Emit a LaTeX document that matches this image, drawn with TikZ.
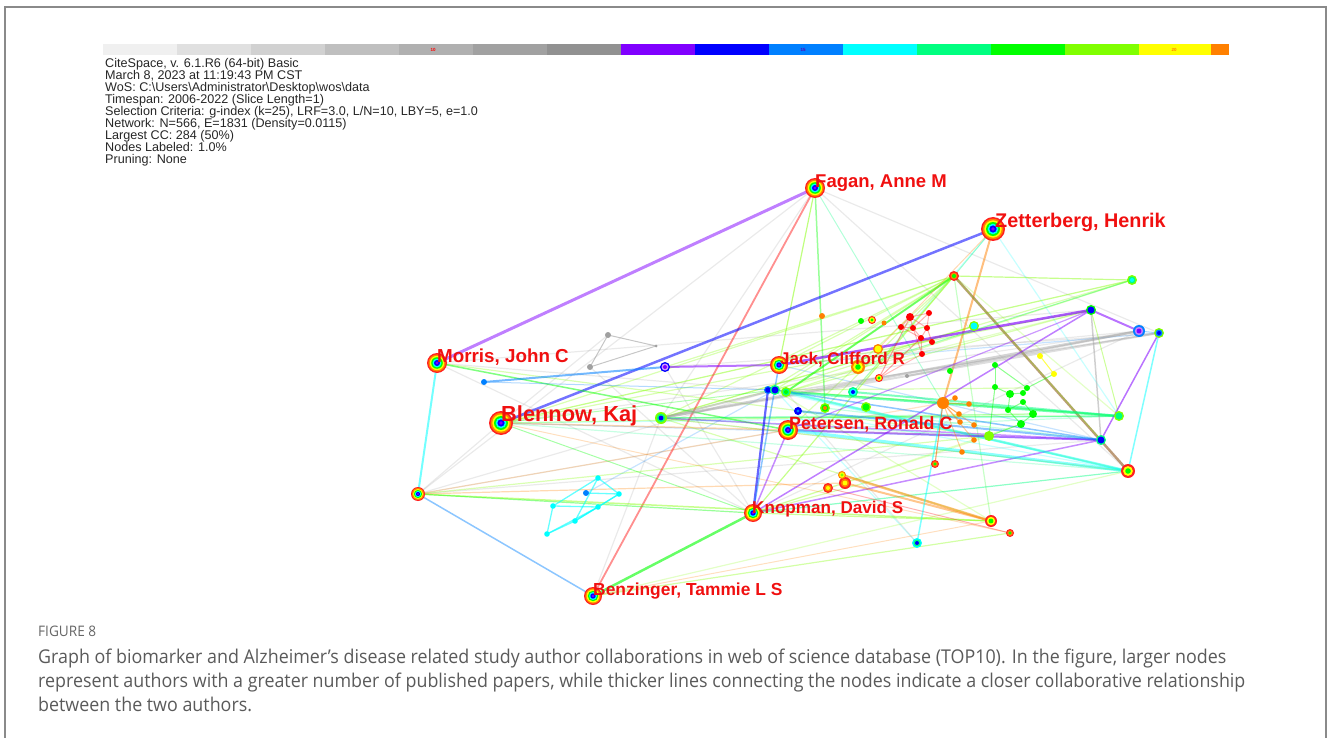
\documentclass[tikz,border=0pt]{standalone}
\usepackage{fontspec}
\setmainfont{Liberation Sans}
\newfontfamily\capfont[FakeStretch=0.94]{Open Sans}
\usetikzlibrary{positioning}

\definecolor{cpurple}{HTML}{8000FF}
\definecolor{cblue}{HTML}{0000FF}
\definecolor{cazure}{HTML}{0080FF}
\definecolor{ccyan}{HTML}{00FFFF}
\definecolor{cspring}{HTML}{00FF80}
\definecolor{cgreen}{HTML}{00FF00}
\definecolor{cchart}{HTML}{80FF00}
\definecolor{cyellow}{HTML}{FFFF00}
\definecolor{corange}{HTML}{FF8000}
\definecolor{cred}{HTML}{FF2020}
\definecolor{cgray}{HTML}{A0A0A0}
\definecolor{cbrown}{HTML}{A07040}
\definecolor{labred}{HTML}{F01010}
\definecolor{capgray}{HTML}{5A5A5A}
\definecolor{framegray}{HTML}{8A8A8A}

\tikzset{
  edge/.style={line cap=round},
  authlab/.style={text=labred,font=\bfseries\fontsize{18.5}{18}\selectfont,inner sep=0pt,anchor=west},
  headtxt/.style={font=\fontsize{12.6}{12}\selectfont,align=left,inner sep=0pt,text=black!85},
  captxt/.style={font=\capfont\fontsize{19}{20}\selectfont,text=capgray,inner sep=0pt,anchor=base west},
  barlab/.style={font=\fontsize{4.5}{5}\selectfont\bfseries,inner sep=0pt}
}

% rainbow ring for the labelled authors
\newcommand\bignode[2]{%
  \foreach \f/\c in {1/cred,0.86/corange,0.72/cyellow,0.58/cgreen,0.44/ccyan,0.30/cblue,0.16/cpurple}
    \fill[\c] (#1) circle[radius=\f*#2pt];
}
% small node: outer, middle, inner colour
\newcommand\dotnode[5]{%
  \fill[#3] (#1) circle[radius=#2pt];
  \fill[#4] (#1) circle[radius=0.7*#2pt];
  \fill[#5] (#1) circle[radius=0.4*#2pt];
}

\begin{document}
\begin{tikzpicture}[x=1pt,y=-1pt]
\useasboundingbox (0,0) rectangle (1328,738);
\draw[framegray,line width=1.2pt] (5,738) -- (5,7) -- (1326,7) -- (1326,738);

% time slices
\foreach \i/\g in {0/6,1/12,2/18,3/25,4/31,5/37,6/43}
  \fill[black!\g] (103+\i*74,44) rectangle ++(74,11);
\foreach \i/\c in {7/cpurple,8/cblue,9/cazure,10/ccyan,11/cspring,12/cgreen,13/cchart,14/cyellow}
  \fill[\c] (103+\i*74,44) rectangle ++(74,11);
\fill[corange] (1211,44) rectangle (1229,55);
\node[barlab,text=red] (y10) at (433,49.5) {10};
\node[barlab,text=cpurple!70!black] (y15) at (803,49.5) {15};
\node[barlab,text=corange] (y20) at (1174,49.5) {20};

\node[headtxt,anchor=north west] (meta) at (105,58.5) {CiteSpace, v. 6.1.R6 (64-bit) Basic\\
March 8, 2023 at 11:19:43 PM CST\\
WoS: C:\textbackslash Users\textbackslash Administrator\textbackslash Desktop\textbackslash wos\textbackslash data\\
Timespan: 2006-2022 (Slice Length=1)\\
Selection Criteria: g-index (k=25), LRF=3.0, L/N=10, LBY=5, e=1.0\\
Network: N=566, E=1831 (Density=0.0115)\\
Largest CC: 284 (50\%)\\
Nodes Labeled: 1.0\%\\
Pruning: None};

% node positions
\foreach \n/\p in {fagan/{815,188},zett/{993,229},morris/{437,363},blennow/{501,423},
  jack/{779,365},petersen/{788,430},knopman/{753,513},benz/{593,596},
  leftn/{418,494},topg/{954,276},rt1/{1132,280},rt2/{1091,310},rt3/{1139,331},
  rt4/{1159,333},rt5/{1119,416},rt6/{1101,440},rt7/{1128,471},bt1/{991,521},
  bt2/{1010,533},bt3/{917,543},or1/{935,464},orc/{943,403},gbig/{989,436},
  bl1/{665,367},gl1/{661,418},bdot/{484,382},jb1/{775,390},jb2/{786,392},
  jb0/{768,390},jb3/{798,411},cy1/{853,392},rr1/{828,488},rr2/{845,483},
  ry1/{842,475},or2/{858,367},rr3/{879,378},g1/{825,408},g2/{866,407},
  gr1/{608,335},gr2/{590,367},gr3/{656,346},
  c1/{598,478},c2/{586,493},c3/{619,494},c4/{553,506},c5/{598,507},c6/{575,521},c7/{547,534},
  r1/{910,317},r2/{929,313},r3/{901,327},r4/{913,328},r5/{927,328},r6/{921,338},r7/{932,342},r8/{922,354},
  q1/{995,365},q2/{995,387},q3/{1010,394},q4/{1023,393},q5/{1023,402},q6/{1008,410},q7/{1033,414},q8/{1021,424},q9/{1027,388},
  y1/{1040,356},y2/{1054,374},
  o1/{955,398},o2/{969,404},o3/{959,414},o4/{974,425},o5/{960,422},o6/{974,440},o7/{962,452},
  m1/{822,316},m2/{861,321},m3/{872,320},m4/{884,323},m5/{878,349},m6/{974,326},m7/{950,371},m8/{907,376}}
  \coordinate (\n) at (\p);

% faint background links
\foreach \a/\b/\c in {fagan/leftn/cgray,fagan/gl1/cgray,fagan/rt7/cgray,fagan/rt4/cgray,zett/rt5/ccyan,
  morris/knopman/cgray,leftn/petersen/cgray,leftn/blennow/cgray,bl1/knopman/cgray,gr2/knopman/cgray,
  gr1/blennow/cgray,morris/jb0/cgray,blennow/rt3/cgray,gl1/rt7/cgray,jack/rt4/cazure,benz/gl1/cgray,
  leftn/jb1/cgray,morris/rt2/cgray,c2/jb1/cazure,topg/rt5/cchart,topg/bt1/cgreen,zett/cy1/ccyan,
  blennow/rt7/cspring,blennow/rt1/cchart,gl1/rt2/cchart,leftn/rt6/cgray,knopman/rt3/cgray,
  bt3/jb1/ccyan,benz/rt7/cchart,knopman/q8/cchart,petersen/gbig/cchart,jb2/bt3/cgray,
  jack/rt3/cgray,jack/rt6/cazure,jb0/rt7/ccyan,gl1/gbig/cspring,petersen/rt5/cspring,
  blennow/rt5/ccyan,blennow/rt6/cazure,bl1/rt4/cgray,jb3/rt7/ccyan,g1/rt6/cspring,
  leftn/orc/corange,gl1/q7/cspring,jb1/bt1/cchart,knopman/gbig/cchart}
  \draw[edge,draw=\c,line width=1.2pt,opacity=0.22] (\a) -- (\b);
\foreach \a/\b in {topg/blennow,topg/gl1,topg/jb1,topg/jb2,topg/petersen,topg/bl1,topg/jack,topg/g1,
  rt1/gl1,rt1/jb2,rt2/blennow,rt2/jb2,m6/jb1,m6/gl1,rt5/jb1,rt5/gl1,rt7/jb2,rt7/gl1,q9/jb1,
  morris/gbig,leftn/gbig,blennow/q7,gl1/bt1,jb0/rt5,knopman/or1,topg/jb0,topg/cy1,rt1/blennow}
  \draw[edge,draw=cchart,line width=1.2pt,opacity=0.3] (\a) -- (\b);

% main links
\foreach \a/\b/\c/\w/\o in {fagan/morris/cpurple/3/0.5,fagan/benz/cred/1.8/0.5,fagan/jack/cchart/1.2/0.5,
  fagan/g1/cgreen/1.5/0.4,fagan/orc/cspring/1/0.3,zett/blennow/cblue/2.5/0.55,zett/orc/corange/2/0.5,
  zett/topg/cspring/1/0.35,topg/rt7/cbrown/2.5/0.7,topg/jb2/cgreen/2/0.5,topg/rt1/cchart/1.2/0.45,
  topg/rt6/cchart/1/0.3,morris/leftn/ccyan/2/0.55,morris/petersen/cgreen/1.5/0.5,
  leftn/benz/cazure/1.5/0.45,leftn/bt1/cchart/1.5/0.45,leftn/knopman/cgreen/1.2/0.4,
  leftn/rr2/corange/1.2/0.3,bdot/bl1/cazure/2/0.55,bdot/jb1/cazure/1/0.3,bl1/jack/cpurple/2/0.55,
  gl1/rt3/cgray/2.5/0.45,gl1/rt4/cgray/2/0.35,gl1/rt6/cpurple/1.5/0.4,gl1/jb1/cgray/2/0.45,
  gl1/rt5/cspring/1.5/0.35,blennow/petersen/corange/1.5/0.3,blennow/jb1/cgreen/1/0.3,
  blennow/knopman/cgreen/1/0.35,blennow/bt2/corange/1/0.25,knopman/jb0/cblue/2.2/0.6,
  knopman/jack/cazure/1.5/0.45,knopman/rt2/cpurple/1.5/0.5,knopman/rt6/cpurple/1.5/0.45,
  knopman/bt1/cchart/1.2/0.4,knopman/rt7/cspring/1.2/0.45,knopman/petersen/cpurple/1.5/0.45,
  knopman/topg/cchart/1.2/0.45,benz/knopman/cgreen/2.5/0.6,benz/bt2/cchart/1.2/0.35,
  benz/bt1/corange/1/0.25,jack/rt2/cpurple/2.5/0.65,jb2/rt7/ccyan/2.5/0.5,jb2/rt5/cspring/2.5/0.55,
  jb2/rt4/cgray/1.5/0.35,jb1/rt6/cazure/1.5/0.45,petersen/rt6/cpurple/2/0.5,petersen/rt7/ccyan/3/0.45,
  petersen/rt2/cpurple/1.2/0.4,rt2/rt6/cgray/1.5/0.5,rt2/rt3/cpurple/2/0.55,rt2/rt5/cchart/1/0.4,
  rt3/rt4/cazure/1/0.35,rt4/rt7/ccyan/1.5/0.5,rt4/rt6/cpurple/1.5/0.55,rt1/or2/ccyan/1/0.3,
  ry1/bt1/corange/2.5/0.5,rr2/bt1/corange/2/0.45,rr1/bt2/cred/1/0.35,bt3/orc/ccyan/1.5/0.5,
  or1/orc/cred/1/0.35,cy1/rt5/cspring/2/0.5,jb3/rt6/cazure/2/0.45,m8/rt3/cgray/2/0.35,
  rr3/r1/cred/1/0.4,rr3/r6/cred/1/0.4,rr3/r8/cred/1/0.3,m5/zett/corange/1/0.3,or2/rt1/cchart/1/0.3}
  \draw[edge,draw=\c,line width=\w,opacity=\o] (\a) -- (\b);

% clusters
\foreach \a/\b in {gr1/gr2,gr1/gr3,gr2/gr3}
  \draw[edge,draw=cgray,line width=1pt,opacity=0.6] (\a) -- (\b);
\foreach \a/\b in {c1/c3,c1/c4,c1/c6,c3/c5,c3/c6,c4/c5,c4/c7,c5/c6,c6/c7,c2/c3,c7/c5}
  \draw[edge,draw=ccyan,line width=1.3pt,opacity=0.6] (\a) -- (\b);
\foreach \a/\b in {r1/r2,r1/r3,r1/r4,r1/r5,r2/r5,r3/r4,r4/r6,r5/r6,r5/r7,r6/r7,r6/r8,r3/r6,r4/r8,r2/r4}
  \draw[edge,draw=cred,line width=1pt,opacity=0.35] (\a) -- (\b);
\foreach \a/\b in {q1/q2,q2/q3,q3/q4,q4/q9,q3/q6,q5/q7,q6/q8,q7/q8,q1/q9,q5/q6,q2/gbig,q8/gbig,q9/y2}
  \draw[edge,draw=cgreen,line width=1pt,opacity=0.45] (\a) -- (\b);
\draw[edge,draw=cyellow,line width=1pt,opacity=0.7] (y1) -- (y2);
\foreach \b in {o1,o2,o3,o4,o5,o6,o7,or1}
  \draw[edge,draw=corange,line width=1pt,opacity=0.4] (orc) -- (\b);

% nodes
\foreach \n in {gr1,gr2} \fill[cgray] (\n) circle[radius=3pt];
\fill[cgray] (gr3) circle[radius=1.5pt];
\foreach \n in {c1,c3,c4,c5,c6,c7} \fill[ccyan] (\n) circle[radius=2.8pt];
\fill[cazure] (c2) circle[radius=3pt];
\fill[red] (r1) circle[radius=4pt];
\foreach \n in {r2,r3,r4,r5,r6,r7,r8} \fill[red] (\n) circle[radius=3pt];
\foreach \n in {q1,q2,q4,q5,q6,q9} \fill[cgreen] (\n) circle[radius=3pt];
\foreach \n in {q3,q7,q8} \fill[cgreen] (\n) circle[radius=4pt];
\foreach \n in {y1,y2} \fill[cyellow] (\n) circle[radius=3pt];
\foreach \n in {o1,o2,o3,o4,o5,o6,o7} \fill[corange] (\n) circle[radius=2.8pt];
\fill[corange] (m1) circle[radius=3pt];
\fill[cgreen] (m2) circle[radius=3pt];
\fill[corange] (m4) circle[radius=2.5pt];
\fill[cgreen] (m7) circle[radius=3pt];
\fill[cgray] (m8) circle[radius=2pt];
\fill[cazure] (bdot) circle[radius=3pt];
\fill[corange] (orc) circle[radius=6pt];
\fill[cchart] (gbig) circle[radius=5pt];
\dotnode{topg}{5}{cred}{corange}{cgreen}
\dotnode{rt1}{5}{cchart}{cspring}{ccyan}
\dotnode{rt2}{5}{cgreen}{cblue}{cblue}
\dotnode{rt3}{6}{cazure}{cpurple!50}{cpurple}
\dotnode{rt4}{5}{cchart}{cazure}{cblue}
\dotnode{rt5}{5}{cchart}{cspring}{cspring}
\dotnode{rt6}{5}{cspring}{cblue}{cblue}
\dotnode{rt7}{7}{cred}{cyellow}{cgreen}
\dotnode{bt1}{6}{cred}{cyellow}{cgreen}
\dotnode{bt2}{4}{cred}{corange}{cgreen}
\dotnode{bt3}{5}{ccyan}{cspring}{cblue}
\dotnode{or1}{4}{cred}{corange}{cgreen}
\dotnode{bl1}{5}{cblue}{cpurple!40}{cpurple}
\dotnode{gl1}{6}{cchart}{cspring}{cblue}
\dotnode{jb0}{4}{cazure}{cblue}{cblue}
\dotnode{jb1}{5}{cspring}{cblue}{cblue}
\dotnode{jb2}{5}{cchart}{cspring}{cgreen}
\dotnode{jb3}{4}{cblue}{cblue}{cazure}
\dotnode{cy1}{5}{cspring}{ccyan}{cblue}
\dotnode{rr1}{5}{cred}{corange}{cyellow}
\dotnode{rr2}{6}{cred}{corange}{cyellow}
\dotnode{ry1}{4}{corange}{cyellow}{cchart}
\dotnode{or2}{7}{corange}{cyellow}{cgreen}
\dotnode{rr3}{4}{cred}{cyellow}{cgreen}
\dotnode{g1}{5}{cchart}{cgreen}{corange}
\dotnode{g2}{5}{cchart}{cgreen}{cgreen}
\dotnode{m3}{4}{cred}{cyellow}{cgreen}
\dotnode{m5}{5}{corange}{cyellow}{cyellow}
\dotnode{m6}{5}{cchart}{ccyan}{ccyan}
\bignode{leftn}{7}
\bignode{fagan}{10}
\bignode{zett}{12}
\bignode{morris}{10}
\bignode{blennow}{12}
\bignode{jack}{9}
\bignode{petersen}{10}
\bignode{knopman}{9}
\bignode{benz}{9}

% labels
\node[authlab] (faganlab) at (815,183) {Fagan, Anne M};
\node[authlab,font=\bfseries\fontsize{19.8}{20}\selectfont] (zettlab) at (995,222) {Zetterberg, Henrik};
\node[authlab,font=\bfseries\fontsize{18.8}{19}\selectfont] (morrislab) at (437,357) {Morris, John C};
\node[authlab,font=\bfseries\fontsize{21.8}{22}\selectfont] (blennowlab) at (501,416) {Blennow, Kaj};
\node[authlab,font=\bfseries\fontsize{17}{17}\selectfont] (jacklab) at (780,360) {Jack, Clifford R};
\node[authlab,font=\bfseries\fontsize{17.8}{18}\selectfont] (peterlab) at (789,424) {Petersen, Ronald C};
\node[authlab,font=\bfseries\fontsize{17.1}{17}\selectfont] (knoplab) at (752,509) {Knopman, David S};
\node[authlab,font=\bfseries\fontsize{17.4}{17}\selectfont] (benzlab) at (593,591) {Benzinger, Tammie L S};

% caption
\node[captxt,font=\capfont\fontsize{14.5}{15}\selectfont,text=black!60] (fig) at (38,636) {FIGURE 8};
\node[captxt] (capA) at (38,663) {Graph of biomarker and Alzheimer’s disease related study author collaborations in web of science database (TOP10). In the figure, larger nodes};
\node[captxt] (capB) at (38,687) {represent authors with a greater number of published papers, while thicker lines connecting the nodes indicate a closer collaborative relationship};
\node[captxt] (capC) at (38,711) {between the two authors.};
\end{tikzpicture}
\end{document}
